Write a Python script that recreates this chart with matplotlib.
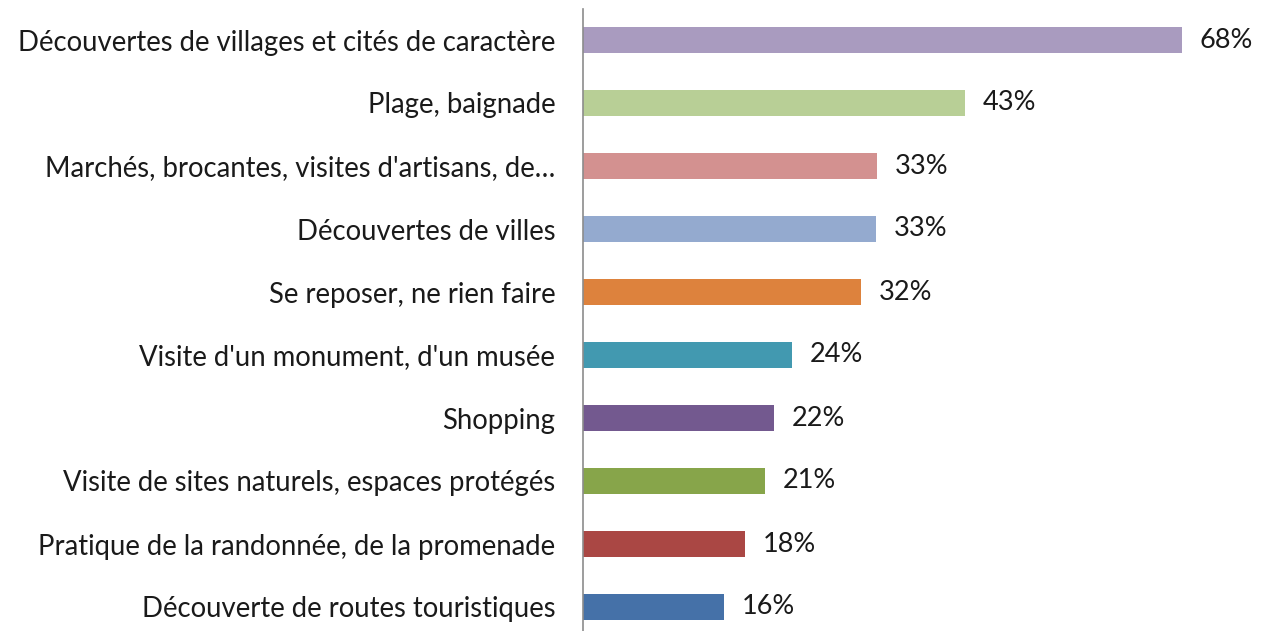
import matplotlib
matplotlib.use("Agg")
import matplotlib.pyplot as plt

categories = [
    "Découvertes de villages et cités de caractère",
    "Plage, baignade",
    "Marchés, brocantes, visites d'artisans, de…",
    "Découvertes de villes",
    "Se reposer, ne rien faire",
    "Visite d'un monument, d'un musée",
    "Shopping",
    "Visite de sites naturels, espaces protégés",
    "Pratique de la randonnée, de la promenade",
    "Découverte de routes touristiques",
]
values = [68.0, 43.4, 33.4, 33.3, 31.6, 23.7, 21.7, 20.7, 18.4, 16.0]
colors = ["#A99BBF", "#B8CF96", "#D39190", "#94AACF", "#DD823D",
          "#4299B0", "#73598F", "#87A54A", "#AA4744", "#4571A8"]

plt.rcParams['font.family'] = ['Lato', 'DejaVu Sans']

fig = plt.figure(figsize=(12.76, 6.31), dpi=100)
ax = fig.add_axes([583 / 1276, -7.5 / 631, 687 / 1276, 630 / 631])

y = list(range(len(categories)))[::-1]
ax.barh(y, values, height=0.4, color=colors)

for yi, v in zip(y, values):
    ax.text(v + 2.0, yi, f"{v:.0f}%", va="center", ha="left",
            fontsize=19.5, color="#1a1a1a")

ax.set_yticks(y)
ax.set_yticklabels(categories, fontsize=19.8, color="#1a1a1a")
ax.tick_params(axis="y", length=0, pad=20)
ax.set_xticks([])
ax.set_xlim(0, 78)
ax.set_ylim(-0.5, len(categories) - 0.5)

for s in ["top", "right", "bottom"]:
    ax.spines[s].set_visible(False)
ax.spines["left"].set_color("#8c8c8c")
ax.spines["left"].set_linewidth(1.2)

fig.savefig("out.png", dpi=100)
